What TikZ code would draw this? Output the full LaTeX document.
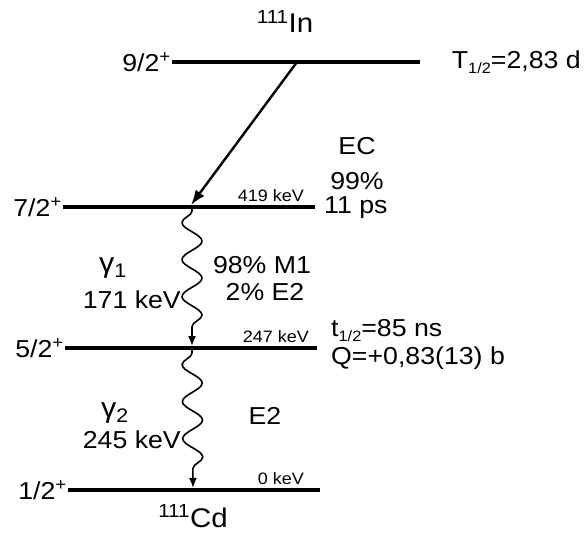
\documentclass[tikz,border=0pt]{standalone}
\usepackage{fontspec}
\setmainfont{Liberation Sans}[FakeStretch=1.09]
\usetikzlibrary{arrows.meta,decorations.pathmorphing}

\begin{document}
\begin{tikzpicture}[x=1pt,y=-1pt,>=Latex,
  level/.style={line width=3.8pt},
  lbl/.style={font=\fontsize{24.5}{28}\selectfont,inner sep=1pt},
  small/.style={font=\fontsize{16.5}{19}\selectfont,inner sep=1pt},
  big/.style={font=\fontsize{27}{30}\selectfont,inner sep=1pt},
  wave/.style={line width=1.6pt,decorate,
    decoration={snake,segment length=37pt,amplitude=-10pt,pre length=3pt,post length=14pt}}]
  \useasboundingbox (0,0) rectangle (585,532);

  % levels
  \coordinate (a9) at (172,62);  \coordinate (b9) at (420,62);
  \coordinate (a7) at (63,207);  \coordinate (b7) at (315,207);
  \coordinate (a5) at (65,348);  \coordinate (b5) at (317,348);
  \coordinate (a1) at (68,490);  \coordinate (b1) at (320,490);
  \foreach \n in {9,7,5,1}
    \draw[level] (a\n) -- (b\n);

  \node[lbl,anchor=east] (s9) at (a9) {9/2\textsuperscript{+}};
  \node[lbl,anchor=east] (s7) at (a7) {7/2\textsuperscript{+}};
  \node[lbl,anchor=east] (s5) at (a5) {5/2\textsuperscript{+}};
  \node[lbl,anchor=east] (s1) at (a1) {1/2\textsuperscript{+}};

  \node[small,anchor=base east] (e7) at (305,201) {419 keV};
  \node[small,anchor=base east] (e5) at (310,342) {247 keV};
  \node[small,anchor=base east] (e1) at (305,484) {0 keV};

  \node[big,anchor=base] (in) at (285,33) {\textsuperscript{111}In};
  \node[big,anchor=base] (cd) at (193,527) {\textsuperscript{111}Cd};

  \node[lbl,anchor=east] (t9) at (582,62) {T{\fontsize{15}{16}\selectfont\raisebox{-5pt}{1/2}}=2,83 d};
  \node[lbl,anchor=west] (t7) at (323,208) {11 ps};
  \node[lbl,anchor=base west] (t5) at (330,336) {t{\fontsize{15}{16}\selectfont\raisebox{-5pt}{1/2}}=85 ns};
  \node[lbl,anchor=base west] (q5) at (330,364) {Q=+0,83(13) b};

  % EC branch
  \coordinate (ec9) at (297,62);
  \coordinate (ec7) at (191,205);
  \draw[line width=2.4pt,-{Latex[length=15pt,width=11pt]}] (ec9) -- (ec7);
  \node[lbl] (ec) at (357,146) {EC};
  \node[lbl] (ecp) at (357,181) {99\%};

  % gamma cascade
  \coordinate (g7) at (192,208);
  \coordinate (g5) at (192,346);
  \coordinate (g5b) at (192,350);
  \coordinate (g1) at (193,488);
  \draw[wave,-{Latex[length=10pt,width=8pt]}] (g7) -- (g5);
  \draw[wave,-{Latex[length=10pt,width=8pt]}] (g5b) -- (g1);

  \node[lbl,font=\fontsize{28}{30}\selectfont] (y1) at (113,268) {γ\textsubscript{1}};
  \node[lbl,anchor=east] (k1) at (182,300) {171 keV};
  \node[lbl] (m1) at (262,265) {98\% M1};
  \node[lbl] (m2) at (265,292) {2\% E2};

  \node[lbl,font=\fontsize{28}{30}\selectfont] (y2) at (115,413) {γ\textsubscript{2}};
  \node[lbl,anchor=east] (k2) at (182,440) {245 keV};
  \node[lbl] (m3) at (265,416) {E2};
\end{tikzpicture}
\end{document}
